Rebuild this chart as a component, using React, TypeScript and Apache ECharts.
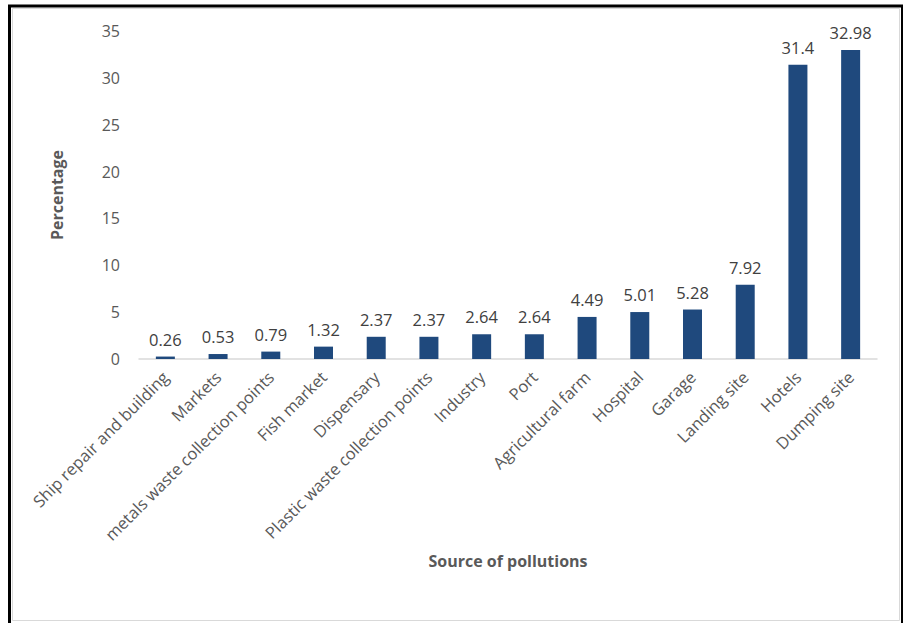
import React, { useEffect, useRef } from "react";
import * as echarts from "echarts";

const categories = [
  "Ship repair and building",
  "Markets",
  "metals waste collection points",
  "Fish market",
  "Dispensary",
  "Plastic waste collection points",
  "Industry",
  "Port",
  "Agricultural farm",
  "Hospital",
  "Garage",
  "Landing site",
  "Hotels",
  "Dumping site",
];
const values = [0.26, 0.53, 0.79, 1.32, 2.37, 2.37, 2.64, 2.64, 4.49, 5.01, 5.28, 7.92, 31.4, 32.98];
const yTicks = { min: 0, max: 35, interval: 5 };

const FONT = "'Open Sans', 'Noto Sans', sans-serif";

export default function App() {
  const ref = useRef<HTMLDivElement>(null);
  useEffect(() => {
    if (!ref.current) return;
    const chart = echarts.init(ref.current, null, { renderer: "svg" });
    chart.setOption({
      animation: false,
      backgroundColor: "#ffffff",
      textStyle: { fontFamily: FONT },
      grid: { left: 139, right: 26, top: 31, bottom: 264, containLabel: false },
      graphic: [
        {
          type: "rect",
          shape: { x: 9.5, y: 6, width: 893, height: 630 },
          style: { fill: "none", stroke: "#000000", lineWidth: 3 },
          silent: true,
        },
        {
          type: "rect",
          shape: { x: 12.5, y: 8.5, width: 887, height: 612 },
          style: { fill: "none", stroke: "#d9d9d9", lineWidth: 1 },
          silent: true,
        },
      ],
      xAxis: {
        type: "category",
        data: categories,
        name: "Source of pollutions",
        nameLocation: "middle",
        nameGap: 194,
        nameTextStyle: { fontFamily: FONT, fontSize: 16, fontWeight: "bold", color: "#595959" },
        axisLine: { show: true, lineStyle: { color: "#d9d9d9", width: 1.5 } },
        axisTick: { show: false },
        axisLabel: {
          interval: 0,
          rotate: 45,
          fontFamily: FONT,
          fontSize: 16.5,
          color: "#595959",
          margin: 15,
        },
      },
      yAxis: {
        type: "value",
        min: yTicks.min,
        max: yTicks.max,
        interval: yTicks.interval,
        name: "Percentage",
        nameLocation: "middle",
        nameGap: 74,
        nameTextStyle: { fontFamily: FONT, fontSize: 16, fontWeight: "bold", color: "#595959" },
        axisLine: { show: false },
        axisTick: { show: false },
        splitLine: { show: false },
        axisLabel: { fontFamily: FONT, fontSize: 16, color: "#595959", margin: 19 },
      },
      series: [
        {
          type: "bar",
          data: values,
          barWidth: 19,
          itemStyle: { color: "#1F497D" },
          label: {
            show: true,
            position: "top",
            distance: 9,
            fontFamily: FONT,
            fontSize: 16.5,
            color: "#404040",
          },
        },
      ],
    });
    return () => chart.dispose();
  }, []);
  return (
    <div
      ref={ref}
      style={{ position: "fixed", left: 0, top: 0, width: 903, height: 623 }}
    />
  );
}
